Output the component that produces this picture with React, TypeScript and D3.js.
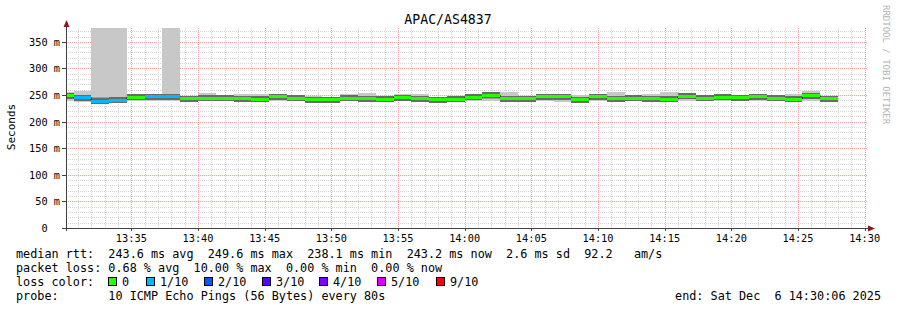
import React from "react";
import * as d3 from "d3";

// ---- data ----
const TITLE = "APAC/AS4837";
const START = Date.UTC(2025, 11, 6, 13, 30, 6);
const END = Date.UTC(2025, 11, 6, 14, 30, 6);
const FIRST_STEP = Date.UTC(2025, 11, 6, 13, 30, 40);
const STEP_S = 80;

const medianMs = [
  249.1, 245.3, 238.1, 240.3, 245.7, 246.3, 247.2, 243.0, 243.8, 244.0,
  243.0, 242.0, 246.3, 244.0, 241.0, 241.2, 243.8, 243.0, 241.6, 245.0,
  243.4, 241.2, 242.5, 245.5, 249.6, 242.6, 243.0, 246.3, 247.0, 241.2,
  246.3, 243.4, 243.8, 243.0, 241.6, 247.6, 243.8, 246.0, 244.5, 246.8,
  243.8, 242.5, 248.7, 243.2,
];
const lossTenths = [
  0, 1, 1, 1, 0, 1, 1, 0, 0, 0,
  0, 0, 0, 0, 0, 0, 0, 0, 0, 0,
  0, 0, 0, 0, 0, 0, 0, 0, 0, 0,
  0, 0, 0, 0, 0, 0, 0, 0, 0, 0,
  0, 0, 0, 0,
];
const pingMin = [
  239, 236, 236, 236, 238, 239, 238, 239, 238, 238,
  239, 238, 238, 239, 238, 238, 238, 238, 236, 238,
  238, 238, 238, 238, 238, 237, 238, 238, 236, 237,
  239, 237, 238, 238, 237, 238, 238, 238, 238, 239,
  238, 238, 239, 238,
];
const pingLo = [
  244, 241, 239, 240, 242, 243, 242, 242, 242, 242,
  242, 241, 242, 242, 241, 240, 242, 242, 240, 242,
  242, 240, 241, 242, 243, 240, 241, 242, 240, 240,
  243, 240, 241, 241, 240, 243, 241, 243, 241, 243,
  241, 241, 243, 241,
];
const pingHi = [
  251, 248, 246, 247, 246, 247, 248, 245, 246, 246,
  246, 247, 247, 247, 244, 242, 247, 248, 243, 247,
  247, 242, 245, 247, 250, 246, 245, 247, 248, 245,
  247, 248, 245, 246, 248, 249, 246, 247, 246, 247,
  246, 245, 251, 245,
];
const pingMax = [
  255, 257, 400, 400, 250, 250, 400, 248, 253, 249,
  251, 252, 250, 250, 248, 244, 252, 254, 247, 251,
  251, 245, 249, 252, 253, 256, 248, 250, 251, 250,
  250, 256, 248, 252, 255, 254, 250, 252, 250, 250,
  250, 251, 257, 248,
];

const lossLegend = ["0", "1/10", "2/10", "3/10", "4/10", "5/10", "9/10"];
const lossColors = ["#26ff00", "#00b8ff", "#0059ff", "#5e00ff", "#7e00ff", "#dd00ff", "#ff0000"];
const lossLegendX = [108, 146, 204, 262, 319, 377, 436];

const yMajor = [0, 50, 100, 150, 200, 250, 300, 350];
const legendLines = [
  "median rtt:  243.6 ms avg  249.6 ms max  238.1 ms min  243.2 ms now  2.6 ms sd  92.2   am/s",
  "packet loss: 0.68 % avg  10.00 % max  0.00 % min  0.00 % now",
  "loss color:",
  "probe:       10 ICMP Echo Pings (56 Bytes) every 80s",
];
const endText = "end: Sat Dec  6 14:30:06 2025";

const FONT = "'DejaVu Sans Mono', monospace";

export default function App() {
  const W = 897, H = 310;
  const x = d3.scaleUtc().domain([START, END]).range([66, 866]);
  const y = d3.scaleLinear().domain([0, 376]).range([228, 28]);

  const segs = medianMs.map((m, i) => {
    const t0 = i === 0 ? START : FIRST_STEP + (i - 1) * STEP_S * 1000;
    const t1 = FIRST_STEP + i * STEP_S * 1000;
    return { t0, t1, m, loss: lossTenths[i], mn: pingMin[i], lo: pingLo[i], hi: pingHi[i], mx: pingMax[i] };
  });

  const minutes = d3.utcMinute.range(new Date(START), new Date(END + 1));
  const minor = minutes.filter((d) => d.getUTCMinutes() % 5 !== 0);
  const major = minutes.filter((d) => d.getUTCMinutes() % 5 === 0);
  const yMinor = d3.range(10, 376, 10).filter((v) => v % 50 !== 0);

  const stepLine = d3
    .line<[number, number]>()
    .x((d) => d[0])
    .y((d) => d[1])
    .curve(d3.curveStepAfter);
  const stepPts: [number, number][] = segs.map((s) => [x(s.t0), y(s.m)]);
  stepPts.push([x(segs[segs.length - 1].t1), y(segs[segs.length - 1].m)]);

  const fmt = d3.utcFormat("%H:%M");
  const x0 = x.range()[0], x1 = x.range()[1];

  return (
    <svg width={W} height={H} style={{ position: "absolute", left: 0, top: 0, background: "#fff" }} fontFamily={FONT}>
      <defs>
        <clipPath id="plot">
          <rect x={x0} y={28} width={x1 - x0} height={200} />
        </clipPath>
      </defs>
      <rect width={W} height={H} fill="#fff" />
      {/* minor grid */}
      <g stroke="#d4d4d4" strokeWidth={1} strokeDasharray="1 1" shapeRendering="crispEdges">
        {minor.map((d, i) => (
          <line key={"vm" + i} x1={Math.round(x(d)) + 0.5} x2={Math.round(x(d)) + 0.5} y1={28} y2={228} />
        ))}
        {yMinor.map((v) => (
          <line key={"hm" + v} x1={x0} x2={x1} y1={Math.round(y(v)) + 0.5} y2={Math.round(y(v)) + 0.5} />
        ))}
      </g>
      {/* major grid */}
      <g stroke="#f0a0a0" strokeWidth={1} strokeDasharray="1 1" shapeRendering="crispEdges">
        {major.map((d, i) => (
          <line key={"vM" + i} x1={Math.round(x(d)) + 0.5} x2={Math.round(x(d)) + 0.5} y1={28} y2={228} />
        ))}
        {yMajor.filter((v) => v > 0).map((v) => (
          <line key={"hM" + v} x1={x0} x2={x1 + 2} y1={Math.round(y(v)) + 0.5} y2={Math.round(y(v)) + 0.5} />
        ))}
      </g>
      {/* smoke */}
      <g clipPath="url(#plot)" shapeRendering="crispEdges">
        {segs.map((s, i) => (
          <rect key={"so" + i} x={x(s.t0)} width={x(s.t1) - x(s.t0)} y={y(s.mx)} height={y(s.mn) - y(s.mx)} fill="#c8c8c8" />
        ))}
        {segs.map((s, i) => (
          <rect key={"si" + i} x={x(s.t0)} width={x(s.t1) - x(s.t0)} y={y(s.hi)} height={y(s.lo) - y(s.hi)} fill="#a0a0a0" />
        ))}
        {segs.map((s, i) => (
          <rect key={"sd" + i} x={x(s.t0)} width={x(s.t1) - x(s.t0)} y={y(s.m) - 3} height={6} fill="#6a6a6a" />
        ))}
      </g>
      {/* median */}
      <path d={stepLine(stepPts) || ""} fill="none" stroke="#202020" strokeWidth={1} />
      <g shapeRendering="crispEdges">
        {segs.map((s, i) => (
          <rect key={"md" + i} x={x(s.t0)} width={x(s.t1) - x(s.t0)} y={y(s.m) - 1.5} height={3} fill={lossColors[s.loss]} />
        ))}
      </g>
      {/* axes */}
      <g stroke="#404040" strokeWidth={1} shapeRendering="crispEdges">
        <line x1={x0 + 0.5} x2={x0 + 0.5} y1={24} y2={231} />
        <line x1={62} x2={870} y1={228.5} y2={228.5} />
        {yMajor.map((v) => (
          <line key={"yt" + v} x1={62} x2={x0} y1={Math.round(y(v)) + 0.5} y2={Math.round(y(v)) + 0.5} />
        ))}
        {major.map((d, i) => (
          <line key={"xt" + i} x1={Math.round(x(d)) + 0.5} x2={Math.round(x(d)) + 0.5} y1={228} y2={231} />
        ))}
      </g>
      <path d={`M${x0 - 2.5},27 L${x0 + 3.5},27 L${x0 + 0.5},20 Z`} fill="#8b1a1a" />
      <path d={`M868,225.5 L868,231.5 L875,228.5 Z`} fill="#8b1a1a" />
      {/* tick labels */}
      <g fontSize={10.3} fill="#000">
        {major.map((d, i) => (
          <text key={"xl" + i} x={x(d)} y={242} textAnchor="middle">{fmt(d)}</text>
        ))}
        {yMajor.map((v) => (
          <text key={"yl" + v} x={60} y={y(v) + 4} textAnchor="end" xmlSpace="preserve" style={{ whiteSpace: "pre" }}>
            {v === 0 ? "  0  " : `${v} m`}
          </text>
        ))}
      </g>
      <text x={448} y={24} textAnchor="middle" fontSize={13.2} fill="#000">{TITLE}</text>
      <text transform="translate(15,127) rotate(-90)" textAnchor="middle" fontSize={11} fill="#000">Seconds</text>
      <text transform="translate(883,5) rotate(90)" fontSize={9} fill="#b4b4b4">RRDTOOL / TOBI OETIKER</text>
      {/* legend */}
      <g fontSize={11.8} fill="#000" style={{ whiteSpace: "pre" }}>
        {legendLines.map((t, i) => (
          <text key={"lg" + i} x={16} y={257.5 + i * 14.3} xmlSpace="preserve">{t}</text>
        ))}
        <text x={881} y={257.5 + 3 * 14.3} textAnchor="end" xmlSpace="preserve">{endText}</text>
        {lossLegend.map((l, i) => (
          <g key={"ll" + i}>
            <rect x={lossLegendX[i] + 0.5} y={277.5} width={8} height={8} fill={lossColors[i]} stroke="#000" strokeWidth={1} />
            <text x={lossLegendX[i] + 14} y={257.5 + 2 * 14.3}>{l}</text>
          </g>
        ))}
      </g>
    </svg>
  );
}
